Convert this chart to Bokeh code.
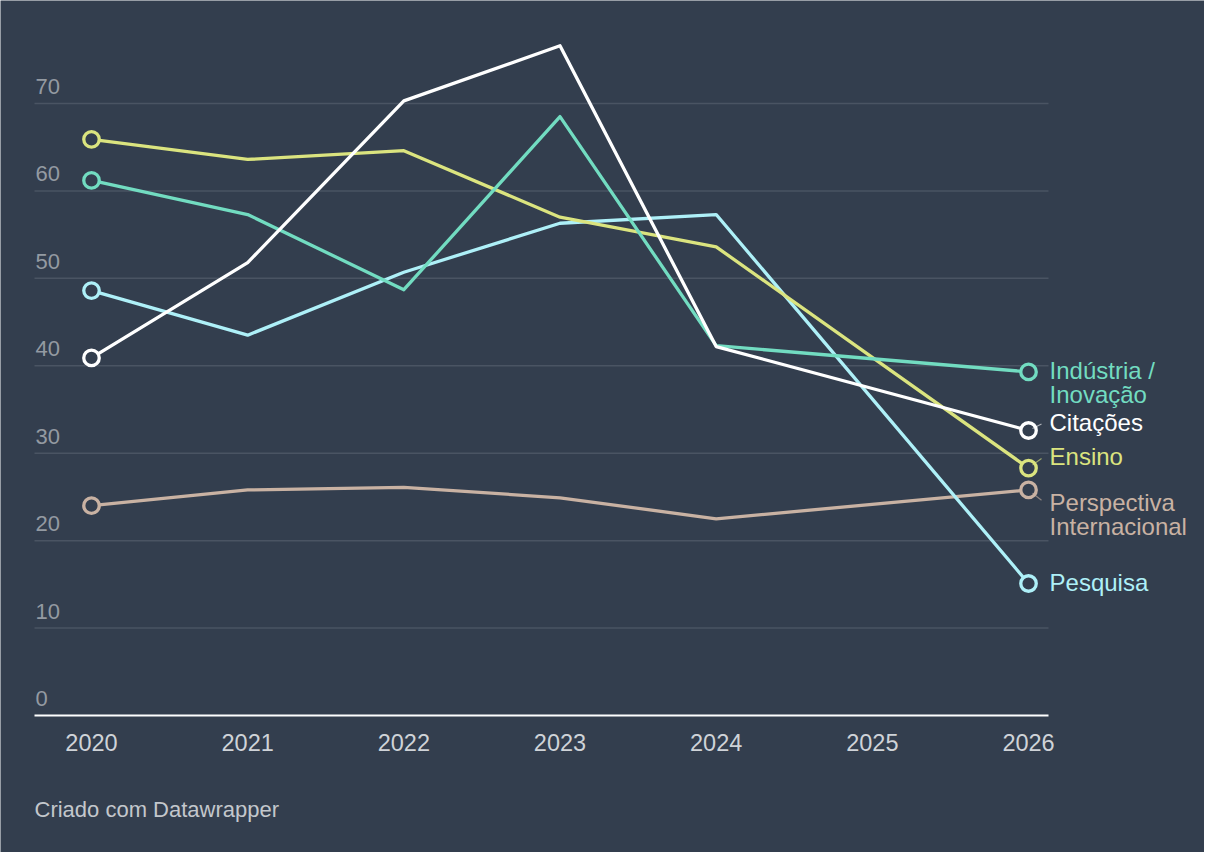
from bokeh.plotting import figure
from bokeh.models import Range1d
from bokeh.core.properties import value
from bokeh.embed import file_html
from bokeh.resources import INLINE

# ---- data ----
years = [2020, 2021, 2022, 2023, 2024, 2026]
ensino = [65.9, 63.6, 64.6, 57.0, 53.6, 28.3]
industria = [61.2, 57.3, 48.7, 68.5, 42.3, 39.3]
citacoes = [40.9, 51.8, 70.3, 76.6, 42.2, 32.6]
pesquisa = [48.6, 43.5, 50.7, 56.3, 57.3, 15.1]
perspectiva = [24.0, 25.8, 26.1, 24.9, 22.5, 25.8]
series_names = ["Perspectiva\nInternacional", "Pesquisa", "Ensino", "Indústria /\nInovação", "Citações"]
x_ticks = [2020, 2021, 2022, 2023, 2024, 2025, 2026]
x_tick_labels = ["2020", "2021", "2022", "2023", "2024", "2025", "2026"]
y_ticks = [0, 10, 20, 30, 40, 50, 60, 70]
y_tick_labels = ["0", "10", "20", "30", "40", "50", "60", "70"]
footer = "Criado com Datawrapper"

# ---- styling / layout ----
BG = "#333e4e"
FONT = value("Liberation Sans")
colors = ["#c9b2a3", "#aef0f8", "#dbe47f", "#72dcc1", "#ffffff"]
values = [perspectiva, pesquisa, ensino, industria, citacoes]
label_dy = [13, -1, -12, -1, -8]   # label shift in px (down positive)
LINE_SP = 23.5
W, H = 1204, 852
PX_X0, PX_YEAR = 91.0, 156.17      # canvas px of first year, px per year
PX_Y0, PX_UNIT = 715.0, 8.743      # canvas px of value 0 (from top), px per unit
xs = 2020 - PX_X0 / PX_YEAR
xe = 2020 + (W - PX_X0) / PX_YEAR
ye = PX_Y0 / PX_UNIT
ys = -(H - PX_Y0) / PX_UNIT
GX0 = xs + 34 / PX_YEAR            # plot area left
GX1 = xs + 1048 / PX_YEAR          # plot area right

p = figure(width=W, height=H, output_backend="svg", toolbar_location=None,
           x_range=Range1d(xs, xe), y_range=Range1d(ys, ye),
           min_border=0, min_border_left=0, min_border_right=0,
           min_border_top=0, min_border_bottom=0)
p.background_fill_color = BG
p.border_fill_color = BG
p.outline_line_color = None
p.axis.visible = False
p.grid.visible = False

# grid lines
gy = y_ticks[1:]
p.segment(x0=[GX0] * len(gy), x1=[GX1] * len(gy), y0=gy, y1=gy,
          line_color="#4a5463", line_width=1.5)
# baseline
p.segment(x0=[GX0], x1=[GX1], y0=[0], y1=[0], line_color="#ffffff", line_width=2)

# y tick labels above grid lines
p.text(x=[GX0] * len(y_ticks), y=y_ticks, text=y_tick_labels, x_offset=1, y_offset=-17,
       text_baseline="alphabetic", text_align="left",
       text_font=FONT, text_font_size="22px", text_color="#939aa2")

# x tick labels
p.text(x=x_ticks, y=[0] * len(x_ticks), text=x_tick_labels, y_offset=27,
       text_baseline="alphabetic", text_align="center",
       text_font=FONT, text_font_size="23.5px", text_color="#cfd3d8")

# footer
p.text(x=[GX0], y=[0], text=[footer], y_offset=94, x_offset=0,
       text_baseline="alphabetic", text_align="left",
       text_font=FONT, text_font_size="22px", text_color="#c3c7cc")

for name, vals, col, dy in zip(series_names, values, colors, label_dy):
    p.line(years, vals, line_color=col, line_width=3.3, line_join="round")
for name, vals, col, dy in zip(series_names, values, colors, label_dy):
    p.scatter([years[0], years[-1]], [vals[0], vals[-1]], size=15.5, line_width=3.3,
              line_color=col, fill_color=BG)
    if abs(dy) > 4:
        # short leader from marker toward displaced label
        p.segment(x0=[years[-1] + 4 / PX_YEAR], y0=[vals[-1] - (dy * 0.25) / PX_UNIT],
                  x1=[years[-1] + 13 / PX_YEAR], y1=[vals[-1] - (dy * 0.8) / PX_UNIT],
                  line_color=col, line_width=1.2, line_alpha=0.6)
    lines = name.split("\n")
    for i, ln in enumerate(lines):
        p.text(x=[years[-1]], y=[vals[-1]], text=[ln], x_offset=21,
               y_offset=dy + i * LINE_SP, text_baseline="middle", text_align="left",
               text_font=FONT, text_font_size="24px", text_color=col)

html = file_html(p, INLINE)
html = html.replace("<body", '<body style="background-color:%s;"' % BG, 1)
open("out.html", "w").write(html)
